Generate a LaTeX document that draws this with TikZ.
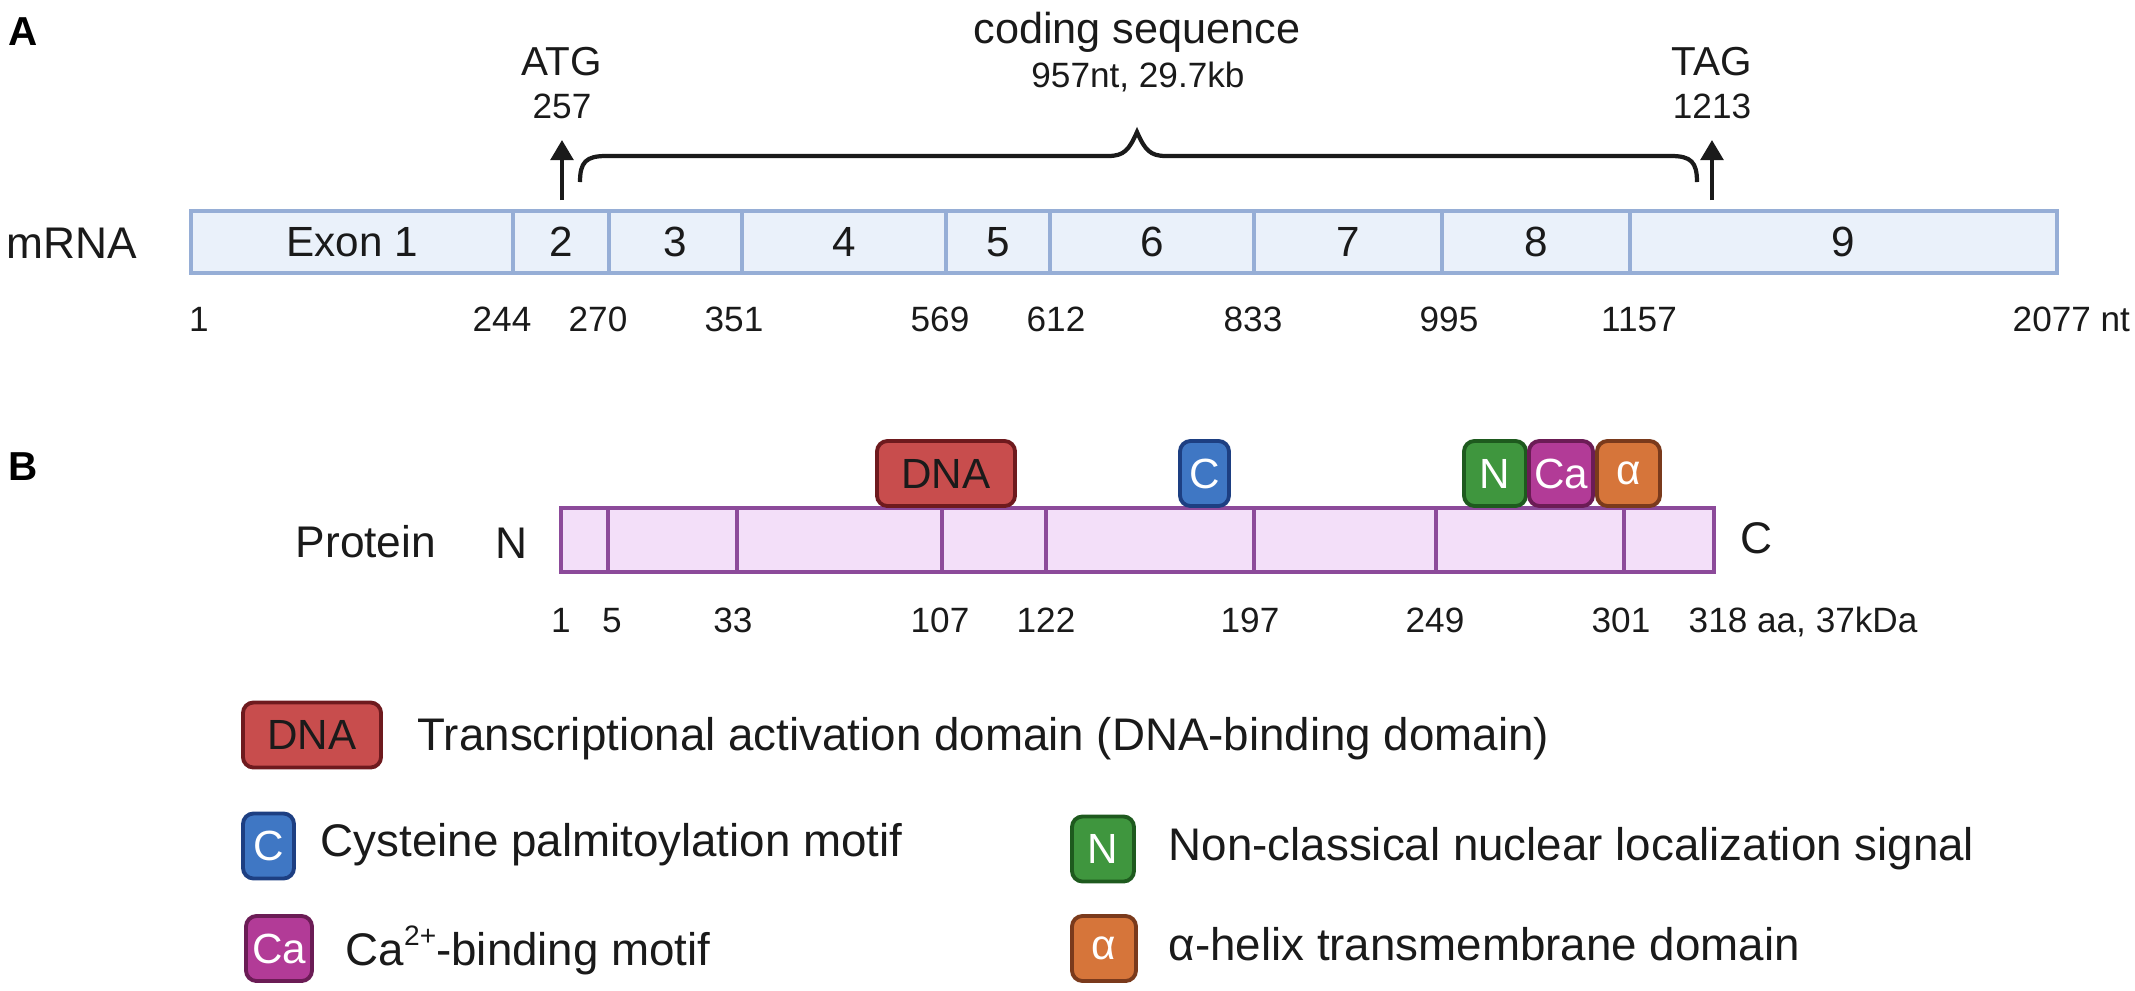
\documentclass[tikz,border=0pt]{standalone}
\usepackage{fontspec}
\setmainfont{Liberation Sans}
\usetikzlibrary{arrows.meta}

\definecolor{exfill}{HTML}{EAF1FA}
\definecolor{exline}{HTML}{96AED6}
\definecolor{prfill}{HTML}{F3DFF9}
\definecolor{prline}{HTML}{8C4A9A}
\definecolor{dnafill}{HTML}{C84D4D}
\definecolor{dnaline}{HTML}{6E1A1E}
\definecolor{cysfill}{HTML}{3F77C4}
\definecolor{cysline}{HTML}{1D3F82}
\definecolor{nlsfill}{HTML}{3F963E}
\definecolor{nlsline}{HTML}{1E5A1E}
\definecolor{cafill}{HTML}{B23B97}
\definecolor{caline}{HTML}{6B1C55}
\definecolor{helfill}{HTML}{D6753A}
\definecolor{helline}{HTML}{7A3A1C}
\definecolor{ink}{HTML}{1A1A1A}

\newcommand{\supsmall}[1]{\raisebox{0.42em}{\fontsize{8}{9}\selectfont #1}}

\tikzset{
  big/.style={font=\fontsize{12.6}{15}\selectfont, text=ink, inner sep=0pt},
  mid/.style={font=\fontsize{11.5}{14}\selectfont, text=ink, inner sep=0pt},
  num/.style={font=\fontsize{10}{12}\selectfont, text=ink, inner sep=0pt},
  leg/.style={font=\fontsize{13}{15}\selectfont, text=ink, inner sep=0pt, anchor=base west},
  panel/.style={font=\bfseries\fontsize{11.5}{14}\selectfont, inner sep=0pt, anchor=base west},
  exon/.style={draw=exline, fill=exfill, line width=1.1pt},
  prot/.style={draw=prline, fill=prfill, line width=1.25pt},
  dom/.style={rounded corners=3pt, line width=1.1pt, inner sep=0pt,
    minimum height=0.65cm, font=\fontsize{12}{14}\selectfont, text=white},
  startarr/.style={-{Triangle[length=5.7pt,width=6.4pt]}, line width=1.2pt, ink},
  cbrace/.style={line width=1.2pt, ink}
}

\begin{document}
\begin{tikzpicture}[x=0.01cm, y=-0.01cm]
  \useasboundingbox (0,0) rectangle (2135,990);

  % A: mRNA
  \node[panel] (pa) at (8,45) {A};
  \node[big, anchor=base west] (mrna) at (6,258) {mRNA};
  \foreach \a/\b/\t [count=\i] in {191/513/Exon 1, 513/609/2, 609/742/3, 742/946/4,
      946/1050/5, 1050/1254/6, 1254/1442/7, 1442/1630/8, 1630/2057/9}
  {
    \draw[exon] (\a,211) rectangle (\b,273);
    \node[big, font=\fontsize{12}{14}\selectfont] (ex\i) at ({(\a+\b)/2},242) {\t};
  }
  \foreach \x/\n in {199/1, 502/244, 598/270, 734/351, 940/569, 1056/612,
      1253/833, 1449/995, 1639/1157}
    \node[num, anchor=base] (nt\n) at (\x,331) {\n};
  \node[num, anchor=base west] (ntend) at (2012,331) {2077 nt};

  % start / stop
  \node[mid, anchor=base] (atg) at (562,75) {ATG};
  \node[num, anchor=base] (atgnum) at (562,118) {257};
  \node[mid, anchor=base] (tag) at (1712,75) {TAG};
  \node[num, anchor=base] (tagnum) at (1712,118) {1213};
  \coordinate (atgfoot) at (562,200);
  \coordinate (atgtip) at (562,140);
  \coordinate (tagfoot) at (1712,200);
  \coordinate (tagtip) at (1712,140);
  \draw[startarr] (atgfoot) -- (atgtip);
  \draw[startarr] (tagfoot) -- (tagtip);

  % coding sequence
  \node[big, anchor=base, font=\fontsize{12.3}{15}\selectfont] (cds) at (1137,43) {coding sequence};
  \node[num, anchor=base] (cdslen) at (1138,87) {957nt, 29.7kb};
  \coordinate (brl) at (580,182);
  \coordinate (brtip) at (1137,132);
  \coordinate (brr) at (1697,182);
  \draw[cbrace] (brl) .. controls (580,162) and (586,156) .. (606,156) -- (1108,156)
    .. controls (1124,156) and (1129,150) .. (brtip)
    .. controls (1145,150) and (1150,156) .. (1166,156) -- (1671,156)
    .. controls (1691,156) and (1697,162) .. (brr);

  % B: protein
  \node[panel] (pb) at (8,480) {B};
  \node[big, anchor=base west] (prot) at (295,557) {Protein};
  \node[big, anchor=base] (nterm) at (511,558) {N};
  \node[big, anchor=base west] (cterm) at (1740,553) {C};
  \foreach \a/\b in {561/608, 608/737, 737/942, 942/1046, 1046/1254,
      1254/1436, 1436/1624, 1624/1714}
    \draw[prot] (\a,508) rectangle (\b,572);
  \foreach \x/\n in {561/1, 612/5, 733/33, 940/107, 1046/122, 1250/197,
      1435/249, 1621/301}
    \node[num, anchor=base] (aa\n) at (\x,632) {\n};
  \node[num, anchor=base west] (aaend) at (1688,632) {318 aa, 37kDa};

  % domains
  \node[dom, draw=dnaline, fill=dnafill, text=ink, minimum width=1.38cm] (dna) at (946,473.5) {DNA};
  \node[dom, draw=cysline, fill=cysfill, minimum width=0.49cm] (cys) at (1204.5,473.5) {C};
  \node[dom, draw=nlsline, fill=nlsfill, minimum width=0.62cm] (nls) at (1495,473.5) {N};
  \node[dom, draw=caline, fill=cafill, minimum width=0.64cm] (cab) at (1561,473.5) {Ca};
  \node[dom, draw=helline, fill=helfill, minimum width=0.63cm] (hel) at (1628.5,473.5) {α};

  % legend
  \node[dom, draw=dnaline, fill=dnafill, text=ink, minimum width=1.38cm] (ldna) at (312,735) {DNA};
  \node[leg] (tdna) at (417,750) {Transcriptional activation domain (DNA-binding domain)};
  \node[dom, draw=cysline, fill=cysfill, minimum width=0.51cm] (lcys) at (268.5,846) {C};
  \node[leg] (tcys) at (320,856) {Cysteine palmitoylation motif};
  \node[dom, draw=nlsline, fill=nlsfill, minimum width=0.62cm] (lnls) at (1103,849) {N};
  \node[leg] (tnls) at (1168,860) {Non-classical nuclear localization signal};
  \node[dom, draw=caline, fill=cafill, minimum width=0.66cm] (lcab) at (279,948.5) {Ca};
  \node[leg] (tcab) at (345,965) {Ca\supsmall{2+}-binding motif};
  \node[dom, draw=helline, fill=helfill, minimum width=0.64cm] (lhel) at (1104,948.5) {α};
  \node[leg] (thel) at (1168,960) {α-helix transmembrane domain};
\end{tikzpicture}
\end{document}
